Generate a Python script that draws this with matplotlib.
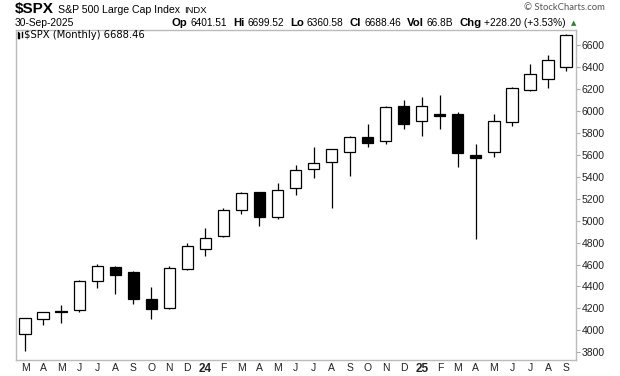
import matplotlib
matplotlib.use("Agg")
import matplotlib.pyplot as plt
from matplotlib.patches import Rectangle
from matplotlib.lines import Line2D

# Monthly $SPX candles, Mar 2023 .. Sep 2025
month_labels = ["M", "A", "M", "J", "J", "A", "S", "O", "N", "D",
                "24", "F", "M", "A", "M", "J", "J", "A", "S", "O", "N", "D",
                "25", "F", "M", "A", "M", "J", "J", "A", "S"]
opens = [3963.3, 4102.2, 4166.8, 4183.0, 4450.5, 4578.8, 4530.6, 4284.5, 4201.3, 4559.4,
         4745.2, 4861.1, 5098.5, 5258.0, 5029.0, 5297.2, 5471.1, 5537.8, 5623.9, 5757.7, 5723.2, 6040.1,
         5903.3, 5969.7, 5968.3, 5597.5, 5625.1, 5896.7, 6187.3, 6287.3, 6401.5]
highs = [4110.8, 4170.1, 4231.1, 4458.5, 4607.1, 4584.6, 4541.3, 4393.6, 4587.6, 4793.3,
         4931.1, 5111.1, 5264.9, 5264.0, 5341.9, 5505.5, 5669.7, 5651.6, 5767.4, 5878.5, 6044.2, 6100.0,
         6128.2, 6147.4, 5986.1, 5695.3, 5968.6, 6215.1, 6427.0, 6508.2, 6699.5]
lows = [3808.9, 4048.3, 4063.0, 4166.2, 4385.1, 4335.3, 4238.6, 4103.8, 4197.7, 4546.5,
        4682.1, 4853.5, 5056.8, 4953.6, 5011.1, 5234.3, 5391.0, 5119.3, 5402.6, 5674.0, 5696.5, 5832.3,
        5773.3, 5837.7, 5488.7, 4835.0, 5578.6, 5861.4, 6178.0, 6212.7, 6360.6]
closes = [4109.3, 4169.5, 4179.8, 4450.4, 4589.0, 4507.7, 4288.1, 4193.8, 4567.8, 4769.8,
          4845.7, 5096.3, 5254.4, 5035.7, 5277.5, 5460.5, 5522.3, 5648.4, 5762.5, 5705.5, 6032.4, 5881.6,
          6040.5, 5954.5, 5611.9, 5569.1, 5911.7, 6205.0, 6339.4, 6460.3, 6688.5]
yticks = list(range(3800, 6601, 200))

W, H = 620, 376
plt.rcParams['font.family'] = ['Liberation Sans', 'DejaVu Sans']

fig = plt.figure(figsize=(W / 100, H / 100), dpi=100)
ax = fig.add_axes([16 / W, 16 / H, 560 / W, 330 / H])

body_w = 0.62
for i, (o, h, l, c) in enumerate(zip(opens, highs, lows, closes)):
    ax.vlines(i, l, h, color='black', lw=0.9, zorder=1)
    fill = 'white' if c >= o else 'black'
    ax.add_patch(Rectangle((i - body_w / 2, min(o, c)), body_w, abs(c - o),
                           facecolor=fill, edgecolor='black', lw=0.9, zorder=2))

ax.set_xlim(-0.5, len(closes) - 0.45)
ax.set_ylim(3730, 6737)

ax.set_xticks(range(len(month_labels)))
ax.set_xticklabels(month_labels)
ax.tick_params(axis='x', length=0, pad=2, labelsize=7.5, labelcolor='#222222')
for t in ax.get_xticklabels():
    if len(t.get_text()) == 2:
        t.set_fontweight('bold')
        t.set_fontsize(8.5)

ax.yaxis.tick_right()
ax.set_yticks(yticks)
ax.tick_params(axis='y', length=3, width=0.8, color='#aaaaaa', pad=1,
               labelsize=7.5, labelcolor='#222222')
for s in ax.spines.values():
    s.set_color('#bbbbbb')
    s.set_linewidth(1.0)


def fx(px):
    return px / W


def fy(py):
    return 1 - py / H


renderer = fig.canvas.get_renderer()


def width_px(t):
    return t.get_window_extent(renderer).width


# header line 1
t = fig.text(fx(15), fy(13), "$SPX", fontsize=11, fontweight='bold', va='baseline')
x = 15 + width_px(t) + 4
t = fig.text(fx(x), fy(13), "S&P 500 Large Cap Index", fontsize=7.6, va='baseline')
x += width_px(t) + 4
fig.text(fx(x), fy(13), "INDX", fontsize=6.8, va='baseline')
fig.text(fx(605), fy(10.5), "\u00a9 StockCharts.com", fontsize=6.8, color='#555555',
         va='baseline', ha='right', family='Lato')

# header line 2
fig.text(fx(15), fy(25.5), "30-Sep-2025", fontsize=7.4, va='baseline')
pieces = [("Op", True), ("6401.51", False), ("Hi", True), ("6699.52", False),
          ("Lo", True), ("6360.58", False), ("Cl", True), ("6688.46", False),
          ("Vol", True), ("66.8B", False), ("Chg", True), ("+228.20 (+3.53%)", False)]
x = 566
fig.text(fx(576), fy(25), "\u25b2", fontsize=5, color='#2e7d32', va='baseline',
         ha='right', family='DejaVu Sans')
for txt, bold in reversed(pieces):
    t = fig.text(fx(x), fy(25.5), txt, va='baseline', ha='right',
                 fontsize=8.2 if bold else 7.3, fontweight='bold' if bold else 'normal')
    x -= width_px(t) + (3 if not bold else 6)

# label inside chart
fig.text(fx(24), fy(37.5), "$SPX (Monthly) 6688.46", fontsize=7.2, va='baseline',
         family='DejaVu Sans')
for dx, y0, y1 in [(17.5, 31.5, 37.5), (19.5, 33, 37.5), (21.5, 32, 36.5)]:
    fig.add_artist(Line2D([fx(dx), fx(dx)], [fy(y0), fy(y1)], color='black', lw=1.0))

fig.savefig("out.png", dpi=100)
